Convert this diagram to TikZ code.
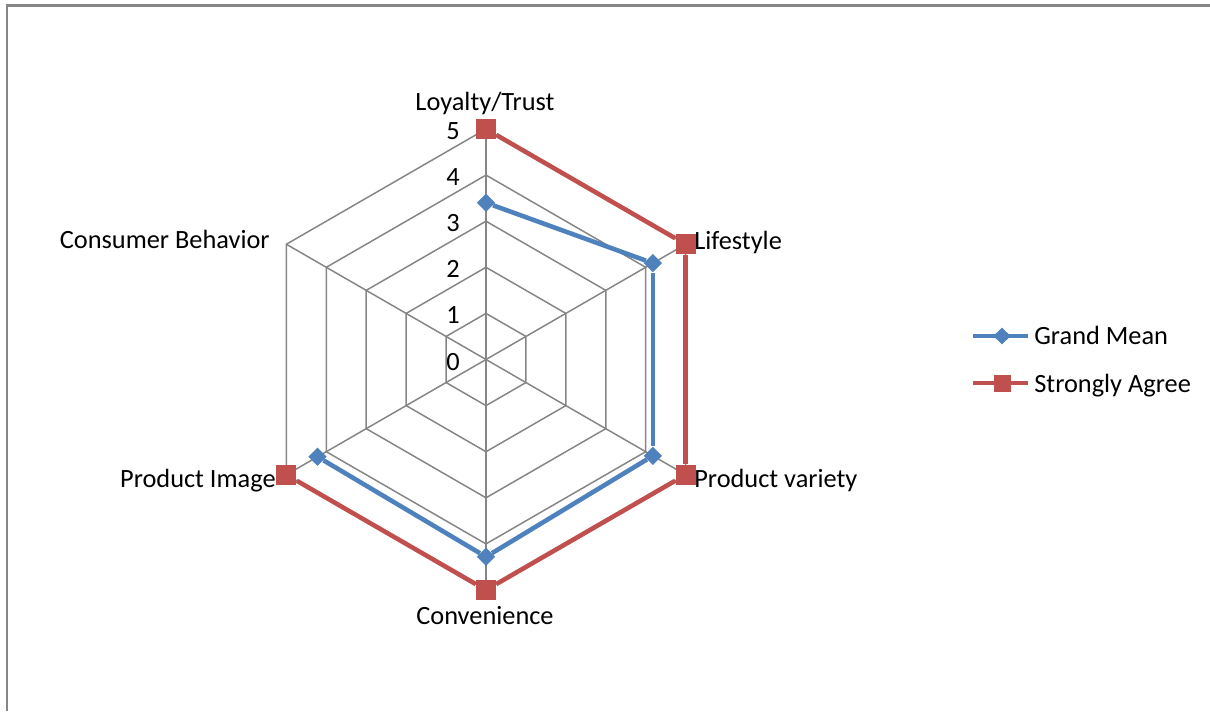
\documentclass[tikz,border=0pt]{standalone}
\usepackage{fontspec}
\setmainfont{Carlito}
\usetikzlibrary{shapes.geometric,positioning}

\definecolor{meanblue}{RGB}{79,129,189}
\definecolor{agreered}{RGB}{192,80,77}
\definecolor{gridgray}{RGB}{134,134,134}

\begin{document}
\begin{tikzpicture}[x=0.02cm,y=0.02cm,
                grid line/.style={gridgray,line width=0.85pt},
                mean line/.style={meanblue,line width=2.6pt},
                agree line/.style={agreered,line width=2.6pt},
                mean mark/.style={diamond,fill=meanblue,inner sep=0pt,
                    minimum width=0.37cm,minimum height=0.37cm},
                agree mark/.style={rectangle,fill=agreered,inner sep=0pt,
                    minimum size=0.4cm},
                axis label/.style={font=\fontsize{15}{18}\selectfont,inner sep=0pt},
                tick label/.style={font=\fontsize{15}{18}\selectfont,inner sep=0pt,anchor=base east}]
	\def\u{46.1}
	\useasboundingbox (-486,-351.5) rectangle (724,359.5);
	% chart frame
	\draw[gridgray,line width=1.2pt] (-479,-351.5) -- (-479,354) -- (724,354);

	% grid
	\foreach \r in {1,...,5}
		\draw[grid line] (90:\r*\u) -- (30:\r*\u) -- (-30:\r*\u) -- (-90:\r*\u)
			-- (210:\r*\u) -- (150:\r*\u) -- cycle;
	\foreach \a in {90,30,-30,-90,210,150}
		\draw[grid line] (0,0) -- (\a:5*\u);
	\foreach \r in {0,...,5}
		\node[tick label] (t\r) at (-26,\r*\u-10.5) {\r};

	% axis labels
	\node[axis label,anchor=base] (loyalty) at (-1,249.5) {Loyalty/Trust};
	\node[axis label,anchor=base west] (lifestyle) at (208,110.5) {Lifestyle};
	\node[axis label,anchor=base west] (variety) at (208,-127.5) {Product variety};
	\node[axis label,anchor=base] (convenience) at (-1,-264.5) {Convenience};
	\node[axis label,anchor=base east] (image) at (-210,-127.5) {Product Image};
	\node[axis label,anchor=base east] (behavior) at (-216,111.5) {Consumer Behavior};

	% strongly agree
	\node[agree mark] (a1) at (90:5*\u) {};
	\node[agree mark] (a2) at (30:5*\u) {};
	\node[agree mark] (a3) at (-30:5*\u) {};
	\node[agree mark] (a4) at (-90:5*\u) {};
	\node[agree mark] (a5) at (210:5*\u) {};
	\path[agree line]
	(a1) edge (a2)
	(a2) edge (a3)
	(a3) edge (a4)
	(a4) edge (a5);

	% grand mean
	\node[mean mark] (m1) at (90:3.4*\u) {};
	\node[mean mark] (m2) at (30:4.18*\u) {};
	\node[mean mark] (m3) at (-30:4.18*\u) {};
	\node[mean mark] (m4) at (-90:4.28*\u) {};
	\node[mean mark] (m5) at (210:4.22*\u) {};
	\path[mean line]
	(m1) edge (m2)
	(m2) edge (m3)
	(m3) edge (m4)
	(m4) edge (m5);

	% legend
	\coordinate (lm1) at (487,23.5);
	\coordinate (lm2) at (542,23.5);
	\coordinate (la1) at (487,-23.5);
	\coordinate (la2) at (542,-23.5);
	\draw[mean line] (lm1) -- (lm2);
	\draw[agree line] (la1) -- (la2);
	\node[mean mark,minimum width=0.35cm,minimum height=0.34cm] (legmean) at (516,23.5) {};
	\node[agree mark,minimum size=0.34cm] (legagree) at (516,-23.5) {};
	\node[axis label,anchor=base west] (meantext) at (548,15.5) {Grand Mean};
	\node[axis label,anchor=base west] (agreetext) at (548,-32.5) {Strongly Agree};
\end{tikzpicture}
\end{document}
